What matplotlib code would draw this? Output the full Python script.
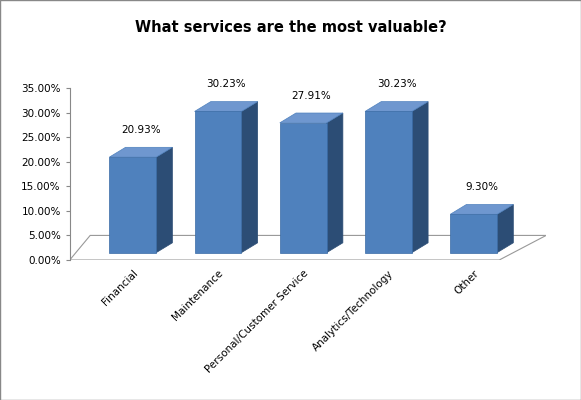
import matplotlib
matplotlib.use("Agg")
import matplotlib.pyplot as plt
from matplotlib.patches import Polygon, Rectangle

categories = ["Financial", "Maintenance", "Personal/Customer Service", "Analytics/Technology", "Other"]
values = [20.93, 30.23, 27.91, 30.23, 9.30]
ticks = [0, 5, 10, 15, 20, 25, 30, 35]

fig = plt.figure(figsize=(5.81, 4.0), dpi=100)
fig.patches.append(Rectangle((0, 0), 1, 1, transform=fig.transFigure, fill=False, ec="#888888", lw=1))
ax = fig.add_axes([0.12, 0.35, 0.82, 0.43])
ax.set_xlim(-0.74, 4.85)
ax.set_ylim(0, 35)
w = 0.55
dx, dy = 0.19, 2.0
base = 1.5

fl = Polygon([(-0.74, 0), (4.3, 0), (4.85, 5.0), (-0.5, 5.0)], closed=True, fc="white", ec="#999999", lw=0.8, zorder=0)
ax.add_patch(fl)

x = list(range(len(values)))
ax.bar(x, [v - base for v in values], bottom=base, width=w, color="#4F81BD", edgecolor="#3A6BA5", lw=0.5, zorder=3)
for xi, v in zip(x, values):
    r = xi + w / 2
    l = xi - w / 2
    ax.add_patch(Polygon([(r, base), (r + dx, base + dy), (r + dx, v + dy), (r, v)], fc="#2C4D75", ec="#2C4D75", lw=0.5, zorder=2))
    ax.add_patch(Polygon([(l, v), (l + dx, v + dy), (r + dx, v + dy), (r, v)], fc="#6F97CF", ec="#4F81BD", lw=0.5, zorder=2))
    ax.text(xi + dx / 2, v + 4.5, f"{v:.2f}%", ha="center", va="bottom", fontsize=7.5)

ax.set_yticks(ticks)
ax.set_yticklabels([f"{t:.2f}%" for t in ticks], fontsize=7.5)
ax.set_xticks(x)
ax.set_xticklabels(categories, rotation=45, ha="right", rotation_mode="anchor", fontsize=7.5)
ax.tick_params(axis="x", length=0, pad=6)
ax.tick_params(axis="y", length=3, color="#888888")
for s in ["top", "right", "bottom"]:
    ax.spines[s].set_visible(False)
ax.spines["left"].set_color("#888888")
fig.text(0.5, 0.93, "What services are the most valuable?", ha="center", va="center", fontsize=10.5, fontweight="bold")
fig.savefig("out.png", dpi=100)
